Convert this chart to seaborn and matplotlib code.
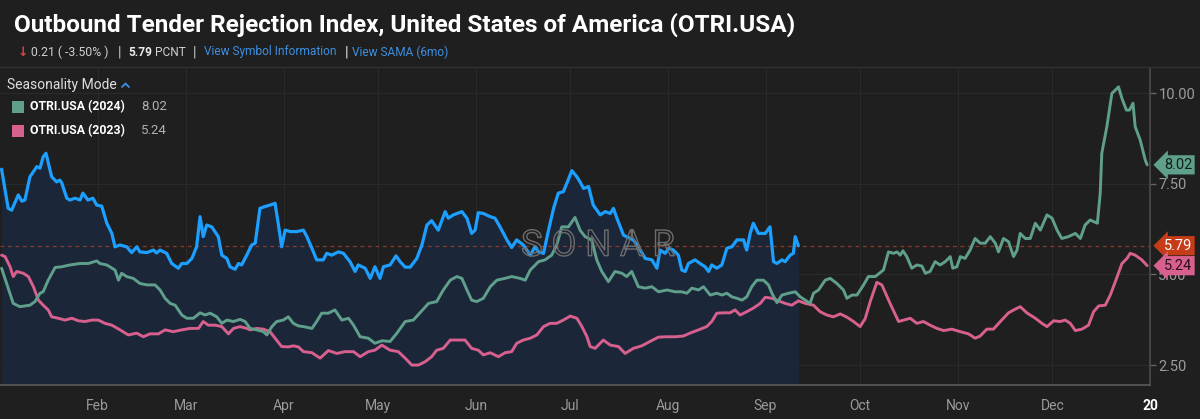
import numpy as np
import pandas as pd
import seaborn as sns
import matplotlib
matplotlib.use("Agg")
from matplotlib import pyplot as plt
from matplotlib.patches import Rectangle
from matplotlib.lines import Line2D
import matplotlib.patheffects as pe

# seasonality view: x = day of year, values in PCNT
day_2025 = [0.5, 2.6, 3.7, 5.8, 6.9, 7.9, 9.5, 11.7, 12.7, 13.7, 14.6, 16.4, 18.0, 19.0, 19.6, 21.2,
            22.2, 23.8, 25.4, 26.3, 27.9, 29.5, 30.7, 32.3, 33.9, 35.5, 36.5, 38.1, 40.2, 41.8, 43.4,
            44.4, 46.6, 48.7, 49.7, 50.8, 52.9, 54.5, 56.6, 57.7, 59.3, 60.9, 62.4, 63.5, 64.5, 65.6,
            67.2, 69.3, 70.4, 72.0, 73.0, 74.6, 75.7, 76.7, 78.3, 79.9, 81.0, 82.5, 84.1, 85.7, 87.3,
            88.3, 89.4, 90.5, 92.1, 94.2, 96.3, 97.4, 99.0, 100.5, 102.6, 103.7, 105.3, 107.4, 109.0,
            111.1, 112.7, 113.7, 115.9, 117.5, 119.0, 120.6, 121.7, 123.8, 125.7, 127.0, 128.6, 130.2,
            132.3, 133.9, 135.5, 137.0, 139.1, 141.3, 142.3, 143.9, 146.6, 148.2, 149.7, 150.8, 151.8,
            153.4, 155.6, 157.1, 158.7, 160.9, 162.4, 164.0, 166.1, 168.3, 169.8, 170.9, 172.5, 174.1,
            175.7, 177.2, 178.8, 179.9, 181.5, 183.1, 184.1, 185.2, 186.8, 188.3, 190.5, 192.1, 193.7,
            194.7, 195.8, 197.9, 200.0, 201.0, 202.6, 204.8, 206.9, 208.5, 209.5, 211.1, 212.2, 213.7,
            215.3, 216.4, 217.5, 218.5, 220.6, 222.2, 223.8, 224.9, 225.9, 227.5, 229.1, 230.7, 232.3,
            233.9, 236.0, 237.0, 238.1, 239.1, 240.7, 242.9, 244.4, 245.5, 246.6, 248.2, 249.2, 250.8,
            251.8, 252.4, 253.4]
otri_2025 = [7.90, 6.82, 6.77, 7.19, 7.02, 7.05, 7.69, 7.97, 7.93, 8.24, 8.34, 7.69, 7.55, 7.60, 7.52, 7.10,
             7.05, 7.10, 7.05, 7.24, 7.05, 7.10, 6.91, 6.88, 6.41, 6.13, 5.76, 5.81, 5.76, 5.60, 5.76,
             5.62, 5.60, 5.67, 5.59, 5.67, 5.58, 5.30, 5.17, 5.30, 5.30, 5.44, 5.76, 6.59, 6.04, 6.36,
             6.31, 6.04, 5.53, 5.44, 5.21, 5.14, 5.30, 5.26, 5.53, 5.81, 5.86, 6.82, 6.87, 6.91, 6.96,
             6.41, 5.76, 6.22, 6.18, 6.18, 6.22, 6.04, 5.72, 5.40, 5.40, 5.58, 5.53, 5.62, 5.58,
             5.35, 5.08, 5.26, 5.17, 4.89, 5.21, 4.89, 5.21, 5.26, 5.51, 5.35, 5.20, 5.20,
             5.44, 5.81, 6.36, 6.48, 6.22, 6.73, 6.55, 6.64, 6.73, 6.55, 6.13, 6.22, 6.70,
             6.68, 6.59, 6.55, 6.31, 5.95, 5.74, 5.95, 5.81, 5.53, 5.76, 5.62, 5.58, 6.22,
             6.82, 7.24, 7.28, 7.51, 7.86, 7.69, 7.55, 7.37, 7.42, 6.91, 6.64, 6.73, 6.68,
             6.82, 6.55, 6.08, 5.99, 5.95, 5.76, 5.44, 5.40, 5.17, 5.67, 5.58, 5.72, 5.67,
             5.53, 5.12, 5.08, 5.30, 5.40, 5.30, 5.21, 5.08, 5.26, 5.17, 5.26, 5.72, 5.76,
             5.95, 5.95, 5.67, 6.13, 6.41, 6.13, 6.13, 6.31, 5.35, 5.30, 5.40, 5.35, 5.53,
             5.58, 6.04, 5.79]

day_2024 = [0.5, 2.1, 4.2, 6.3, 9.5, 11.1, 12.7, 13.7, 15.3, 17.5, 19.6, 22.2, 25.4, 28.0, 30.7, 31.7,
            33.9, 36.5, 37.6, 38.6, 40.2, 42.3, 44.4, 46.6, 49.2, 50.8, 52.4, 54.0, 55.6, 57.7, 59.3,
            61.4, 63.5, 65.1, 66.7, 68.8, 70.4, 72.0, 74.1, 76.2, 77.8, 79.4, 81.5, 83.6, 84.7, 86.3,
            87.8, 89.9, 91.5, 93.1, 94.7, 96.3, 99.0, 100.5, 102.1, 104.2, 106.3, 108.5, 110.6, 112.2,
            114.3, 116.9, 119.0, 121.2, 123.8, 125.9, 128.6, 131.2, 133.3, 136.0, 138.6, 140.7, 142.9,
            145.0, 146.6, 148.2, 149.7, 151.3, 153.4, 155.6, 157.7, 160.3, 162.4, 165.1, 166.7, 168.3,
            170.9, 173.0, 175.1, 176.7, 178.3, 180.4, 182.5, 184.1, 185.7, 187.8, 189.4, 191.0, 193.1,
            195.2, 197.4, 198.9, 200.5, 202.6, 204.8, 206.9, 209.0, 211.7, 214.3, 216.4, 218.0, 219.6,
            221.7, 223.3, 225.4, 227.5, 229.1, 230.7, 232.3, 233.9, 235.5, 237.0, 238.6, 240.2, 242.3,
            243.9, 245.0, 246.6, 248.2, 250.3, 252.4, 254.0, 255.6, 257.1, 258.2, 259.8, 261.9, 263.5,
            265.6, 267.7, 268.8, 270.4, 272.0, 274.1, 275.6, 277.8, 279.4, 280.4, 282.0, 283.6, 284.7,
            285.7, 286.6, 287.8, 289.4, 291.0, 292.6, 293.7, 295.2, 296.8, 298.4, 300.0, 301.6, 302.4,
            303.7, 304.8, 306.3, 307.9, 309.5, 311.1, 312.7, 314.3, 315.9, 316.9, 318.5, 320.1, 321.7,
            322.8, 323.8, 325.4, 327.0, 328.6, 330.2, 332.3, 333.9, 335.5, 337.0, 339.1, 341.3, 342.9,
            344.4, 346.0, 348.3, 349.2, 349.7, 351.3, 352.9, 354.0, 355.0, 356.1, 357.5, 358.5, 359.6,
            360.3, 361.9, 363.5, 364.1]
otri_2024 = [5.17, 4.75, 4.20, 4.11, 4.15, 4.25, 4.48, 4.52, 4.84, 5.19, 5.21, 5.26, 5.30, 5.30, 5.37, 5.30,
             5.26, 5.12, 4.84, 5.03, 4.94, 4.89, 4.75, 4.71, 4.71, 4.57, 4.34, 4.20, 4.15, 3.88, 3.79,
             3.79, 3.94, 3.88, 3.93, 3.83, 3.65, 3.74, 3.70, 3.76, 3.70, 3.51, 3.47, 3.42, 3.33, 3.56,
             3.70, 3.74, 3.83, 3.65, 3.58, 3.56, 3.51, 3.70, 3.93, 3.93, 4.02, 3.74, 3.79, 3.60,
             3.28, 3.24, 3.10, 3.17, 3.15, 3.37, 3.70, 3.74, 3.94, 4.20, 4.25, 4.57, 4.84,
             4.94, 4.89, 4.57, 4.29, 4.25, 4.34, 4.66, 4.84, 4.89, 4.94, 4.89, 4.84, 5.12,
             5.35, 5.40, 5.53, 5.81, 6.31, 6.31, 6.57, 6.22, 6.04, 5.95, 5.40, 5.08, 4.80,
             5.08, 5.03, 4.94, 5.08, 4.66, 4.62, 4.66, 4.52, 4.57, 4.52, 4.52, 4.48, 4.62,
             4.57, 4.66, 4.43, 4.48, 4.43, 4.48, 4.38, 4.34, 4.29, 4.38, 4.66, 4.84, 4.84,
             4.71, 4.48, 4.22, 4.43, 4.48, 4.52, 4.38, 4.29, 4.20, 4.48, 4.57, 4.84, 4.89,
             4.75, 4.57, 4.34, 4.43, 4.43, 4.71, 4.94, 4.94, 5.05, 5.12, 5.62, 5.58, 5.62,
             5.53, 5.65, 5.49, 5.17, 5.26, 5.23, 5.03, 5.08, 5.35, 5.26, 5.35, 5.49, 5.17,
             5.21, 5.49, 5.44, 5.67, 5.99, 5.86, 5.86, 6.04, 5.86, 5.62, 5.99, 5.90, 5.49,
             5.67, 6.13, 5.99, 5.99, 6.41, 6.22, 6.64, 6.55, 6.22, 5.99, 6.04, 6.13, 5.99,
             6.36, 6.50, 6.41, 7.24, 8.34, 9.07, 9.99, 10.08, 10.17, 9.85, 9.53, 9.53, 9.72,
             9.07, 8.70, 8.15, 8.02]

day_2023 = [0.5, 1.6, 3.2, 4.2, 5.3, 7.4, 9.0, 10.6, 12.2, 13.7, 15.3, 16.4, 18.5, 20.6, 22.8, 24.9,
            27.0, 29.1, 31.2, 33.3, 35.5, 38.1, 40.7, 43.4, 45.5, 47.6, 50.3, 52.4, 55.0, 57.7, 60.3,
            63.0, 64.5, 66.1, 68.3, 70.4, 72.5, 74.1, 76.2, 78.3, 79.4, 81.5, 83.6, 85.7, 87.3, 89.4,
            91.5, 93.1, 94.7, 96.3, 99.0, 101.6, 104.2, 106.9, 109.5, 112.2, 114.3, 116.9, 119.0,
            121.2, 123.8, 126.4, 128.6, 130.7, 132.8, 134.9, 137.0, 138.6, 140.7, 142.9, 145.5, 147.6,
            149.7, 151.8, 153.4, 155.6, 158.2, 160.3, 162.4, 164.0, 166.1, 168.3, 170.4, 172.5, 174.6,
            176.7, 178.8, 181.0, 183.1, 184.7, 186.3, 187.3, 188.9, 191.5, 193.7, 196.3, 198.4, 201.0,
            203.7, 206.3, 209.0, 211.7, 214.3, 216.9, 219.0, 221.7, 224.3, 225.9, 227.5, 229.6, 231.7,
            233.3, 234.9, 237.0, 239.1, 241.3, 242.9, 245.0, 247.1, 249.2, 251.3, 253.4, 255.6, 258.2,
            260.3, 262.4, 264.5, 266.7, 268.8, 270.9, 273.0, 274.6, 276.2, 278.3, 279.9, 282.5, 285.2,
            286.8, 288.9, 291.0, 293.1, 295.2, 297.4, 299.5, 302.1, 304.8, 307.4, 309.5, 311.1, 313.2,
            315.3, 317.5, 320.1, 322.2, 323.8, 325.9, 328.6, 330.7, 332.3, 334.4, 336.5, 338.1, 339.7,
            341.3, 343.4, 345.5, 347.1, 348.7, 350.8, 352.4, 354.0, 356.1, 357.7, 358.7, 360.3, 362.4,
            364.1]
otri_2023 = [5.53, 5.49, 5.21, 4.94, 5.08, 5.03, 4.94, 4.66, 4.29, 4.15, 4.02, 3.83, 3.79, 3.74, 3.79, 3.72,
             3.70, 3.74, 3.74, 3.65, 3.60, 3.47, 3.33, 3.38, 3.28, 3.36, 3.36, 3.47, 3.42, 3.47, 3.51,
             3.51, 3.70, 3.60, 3.60, 3.56, 3.36, 3.51, 3.56, 3.51, 3.47, 3.51, 3.49, 3.42, 3.24, 3.01,
             3.00, 3.03, 3.00, 2.87, 2.84, 2.69, 2.90, 2.82, 2.87, 2.87, 2.73, 2.87, 2.91,
             3.05, 2.91, 2.87, 2.69, 2.50, 2.50, 2.59, 2.73, 2.91, 2.96, 3.19, 3.19, 3.19,
             2.96, 2.91, 2.78, 2.84, 2.73, 2.84, 2.87, 3.10, 3.19, 3.24, 3.33, 3.56, 3.65,
             3.65, 3.74, 3.85, 3.79, 3.56, 3.28, 3.01, 2.96, 3.19, 3.05, 3.01, 2.82, 2.96,
             3.03, 3.15, 3.27, 3.28, 3.28, 3.30, 3.38, 3.47, 3.56, 3.70, 3.93, 3.94, 3.94,
             4.02, 3.88, 3.97, 4.07, 4.20, 4.37, 4.34, 4.27, 4.20, 4.15, 4.27, 4.20, 4.15,
             3.97, 3.88, 3.83, 3.91, 3.82, 3.70, 3.56, 3.78, 4.25, 4.78, 4.71, 4.20, 3.70,
             3.74, 3.79, 3.65, 3.70, 3.60, 3.51, 3.45, 3.49, 3.42, 3.36, 3.24, 3.30, 3.49,
             3.49, 3.70, 3.94, 4.04, 4.11, 3.94, 3.79, 3.65, 3.56, 3.72, 3.70, 3.74, 3.65,
             3.45, 3.49, 3.60, 3.97, 4.13, 4.15, 4.43, 4.80, 5.30, 5.44, 5.58, 5.53, 5.40,
             5.24]

month_days = [31, 59, 90, 120, 151, 181, 212, 243, 273, 304, 334, 365]
month_labels = ['Feb', 'Mar', 'Apr', 'May', 'Jun', 'Jul', 'Aug', 'Sep', 'Oct', 'Nov', 'Dec', '20']
y_ticks = [2.5, 5.0, 7.5, 10.0]
last_price = 5.79
last_2024 = 8.02
last_2023 = 5.24

bg = '#1f1f1f'
blue = '#1c9fff'
green = '#5f9f8b'
pink = '#d7608f'
light = '#9b9b9b'
link = '#3d8fe0'

sns.set_theme(style='dark')
plt.rcParams['font.family'] = ['Roboto', 'DejaVu Sans']

df25 = pd.DataFrame({'day': day_2025, 'value': otri_2025})
df24 = pd.DataFrame({'day': day_2024, 'value': otri_2024})
df23 = pd.DataFrame({'day': day_2023, 'value': otri_2023})

fig = plt.figure(figsize=(12, 4.19), dpi=100, facecolor=bg)
ax = fig.add_axes([0.0, 1 - 385 / 419, 1150 / 1200, (385 - 68) / 419])
ax.set_facecolor(bg)

ax.set_xlim(0, 365)
ax.set_ylim(1.95, 10.69)

for d in month_days[:-1]:
    ax.axvline(d, color='#2a2a2a', lw=0.8, zorder=0)
for v in y_ticks:
    ax.axhline(v, color='#2a2a2a', lw=0.8, zorder=0)

ax.fill_between(df25['day'], df25['value'], 1.95, color='#1b2638', lw=0, zorder=1)
ax.axhline(last_price, color='#8a3a2a', lw=0.9, ls=(0, (3, 3)), zorder=2)

sns.lineplot(data=df23, x='day', y='value', ax=ax, color=pink, lw=2.1, zorder=3, sort=False)
sns.lineplot(data=df24, x='day', y='value', ax=ax, color=green, lw=2.1, zorder=3, sort=False)
sns.lineplot(data=df25, x='day', y='value', ax=ax, color=blue, lw=2.3, zorder=4, sort=False)

# watermark
ax.text(0.52, (last_price - 1.95) / (10.69 - 1.95), 'S O N A R', transform=ax.transAxes,
        ha='center', va='center', fontsize=26, color='none', zorder=5,
        path_effects=[pe.Stroke(linewidth=1.0, foreground='#6d6d6d')])

ax.set_xlabel('')
ax.set_ylabel('')
ax.set_xticks(month_days)
ax.set_xticklabels(month_labels)
ax.set_yticks(y_ticks)
ax.set_yticklabels(['%.2f' % v for v in y_ticks])
ax.yaxis.tick_right()
ax.tick_params(axis='x', colors='#666666', labelcolor=light, labelsize=10, length=4, width=1, pad=6)
ax.tick_params(axis='y', colors='#666666', labelcolor=light, labelsize=10.5, length=4, width=1, pad=2)
lab = ax.get_xticklabels()[-1]
lab.set_color('white')
lab.set_fontweight('bold')

for s in ['top', 'left']:
    ax.spines[s].set_visible(False)
ax.spines['right'].set_color('#4a4a4a')
ax.spines['bottom'].set_color('#5a5a5a')
ax.spines['bottom'].set_linewidth(1.2)

# value badges on the right axis
badges = [(last_2024, green, '#10201b'), (last_price, '#c63c18', 'white'), (last_2023, pink, '#2a0f1c')]
for val, fc, tc in badges:
    ax.text(1.012, val, '%.2f' % val, transform=ax.get_yaxis_transform(), ha='left', va='center',
            fontsize=10.5, color=tc, zorder=10, clip_on=False,
            bbox=dict(boxstyle='larrow,pad=0.18', fc=fc, ec='none'))

# header
W, H = 1200, 419
sub_y = 1 - 52 / H
fig.text(14 / W, 1 - 25 / H, 'Outbound Tender Rejection Index, United States of America (OTRI.USA)',
         fontsize=17.5, fontweight='bold', color='white', va='center')
fig.text(18 / W, sub_y, '↓', fontsize=9, color='#e0413a', va='center', fontweight='bold')
fig.text(31 / W, sub_y, '0.21 ( -3.50% )', fontsize=8.8, color='#cfcfcf', va='center')
fig.text(118 / W, sub_y, '|', fontsize=10, color='#cfcfcf', va='center')
fig.text(128 / W, sub_y, '5.79', fontsize=8.6, color='#ececec', va='center', fontweight='bold')
fig.text(155 / W, sub_y, 'PCNT', fontsize=8.6, color='#cfcfcf', va='center')
fig.text(193 / W, sub_y, '|', fontsize=10, color='#cfcfcf', va='center')
fig.text(204 / W, sub_y, 'View Symbol Information', fontsize=8.6, color=link, va='center')
fig.text(345 / W, sub_y, '|', fontsize=11, color='#dddddd', va='center')
fig.text(352 / W, sub_y, 'View SAMA (6mo)', fontsize=8.6, color=link, va='center')
fig.add_artist(Line2D([0, 1], [1 - 67 / H, 1 - 67 / H], color='#303030', lw=1))

# legend
fig.text(7 / W, 1 - 85 / H, 'Seasonality Mode', fontsize=10, color='#dedede', va='center')
fig.add_artist(Line2D([122 / W, 125.5 / W, 129 / W], [1 - 87 / H, 1 - 83.5 / H, 1 - 87 / H],
                      color=link, lw=1.3))
legend_rows = [('OTRI.USA (2024)', last_2024, green, 107), ('OTRI.USA (2023)', last_2023, pink, 131)]
for name, val, col, py in legend_rows:
    fig.add_artist(Rectangle((12 / W, 1 - (py + 6) / H), 12 / W, 12 / H, color=col, lw=0))
    fig.text(30 / W, 1 - py / H, name, fontsize=8.8, color='white', va='center', fontweight='bold')
    fig.text(141 / W, 1 - py / H, '%.2f' % val, fontsize=9.5, color='#b0b0b0', va='center')

fig.savefig('out.png', dpi=100, facecolor=bg)
